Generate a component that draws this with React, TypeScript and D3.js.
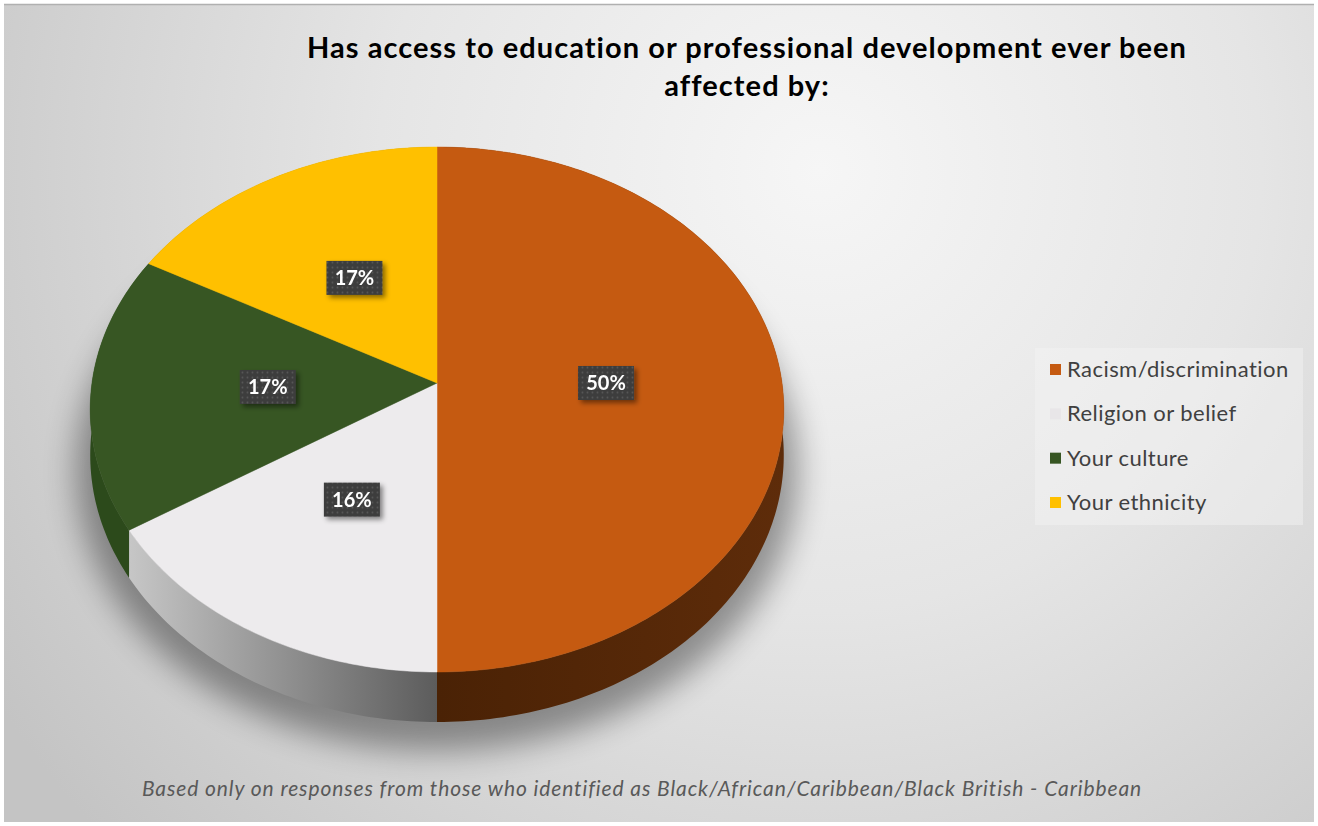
import React from "react";
import * as d3 from "d3";

const categories = ["Racism/discrimination", "Religion or belief", "Your culture", "Your ethnicity"];
const values = [50, 16, 17, 17];
const labels = ["50%", "16%", "17%", "17%"];
const topColors = ["#C55A11", "#EDEBED", "#375623", "#FFC000"];
const sideColors = ["url(#orangeSide)", "url(#graySide)", "#2C4A1B", "#B88A00"];
const legendColors = ["#C55A11", "#E8E6E8", "#375623", "#FFC000"];
const titleLines = ["Has access to education or professional development ever been", "affected by:"];
const footnote = "Based only on responses from those who identified as Black/African/Caribbean/Black British - Caribbean";

const W = 1318, H = 826;
// perspective projection of the pie disk
const CX = 437, CY = 383, A = 345, B = 259.8, K = -0.101, DEPTH = 45;

function proj(theta: number, r: number, drop = 0): [number, number] {
  const u = r * Math.sin(theta);
  const v = -r * Math.cos(theta);
  const den = 1 + K * v;
  return [CX + (A * u) / den, CY + (B * v + drop) / den];
}

function arcPts(t1: number, t2: number, r: number, drop = 0): [number, number][] {
  const n = Math.max(8, Math.ceil(((t2 - t1) * 180) / Math.PI));
  return d3.range(n + 1).map((i) => proj(t1 + ((t2 - t1) * i) / n, r, drop));
}

export default function App() {
  const pie = d3.pie<number>().sort(null).startAngle(0).endAngle(2 * Math.PI);
  const arcs = pie(values);
  const line = d3.line();

  const topPaths = arcs.map((a) => {
    const pts = [proj(0, 0), ...arcPts(a.startAngle, a.endAngle, 1)];
    return line(pts) + "Z";
  });
  const sidePaths = arcs.map((a) => {
    const top = arcPts(a.startAngle, a.endAngle, 1);
    const bot = arcPts(a.startAngle, a.endAngle, 1, DEPTH).reverse();
    return line([...top, ...bot]) + "Z";
  });
  const shadowPath = line(arcPts(0, 2 * Math.PI, 1.04, DEPTH + 14)) + "Z";
  const labelPos = arcs.map((a) => proj((a.startAngle + a.endAngle) / 2, 0.49));

  const legendY = d3.scalePoint<string>().domain(categories).range([370, 503]);

  return (
    <svg width={W} height={H} style={{ position: "absolute", left: 0, top: 0 }} fontFamily="Lato, 'Open Sans', sans-serif">
      <defs>
        <radialGradient id="bg" gradientUnits="userSpaceOnUse" cx={820} cy={170} r={980}>
          <stop offset="0" stopColor="#f6f6f6" />
          <stop offset="0.45" stopColor="#e5e5e5" />
          <stop offset="1" stopColor="#c4c4c4" />
        </radialGradient>
        <linearGradient id="graySide" gradientUnits="userSpaceOnUse" x1={110} y1={0} x2={437} y2={0}>
          <stop offset="0" stopColor="#cdcdcd" />
          <stop offset="0.45" stopColor="#9a9a9a" />
          <stop offset="1" stopColor="#5c5c5c" />
        </linearGradient>
        <linearGradient id="orangeSide" gradientUnits="userSpaceOnUse" x1={437} y1={0} x2={785} y2={0}>
          <stop offset="0" stopColor="#4A2205" />
          <stop offset="1" stopColor="#5E2C0A" />
        </linearGradient>
        <filter id="shadowBlur" x="-20%" y="-20%" width="140%" height="140%">
          <feGaussianBlur stdDeviation="16" />
        </filter>
        <filter id="boxShadow" x="-30%" y="-30%" width="160%" height="160%">
          <feDropShadow dx="3" dy="3" stdDeviation="2.5" floodColor="#000" floodOpacity="0.45" />
        </filter>
        <pattern id="dots" width="5" height="5" patternUnits="userSpaceOnUse">
          <rect width="5" height="5" fill="#3d3d3d" />
          <circle cx="2.5" cy="2.5" r="0.9" fill="#575757" />
        </pattern>
      </defs>

      <rect x={0} y={0} width={W} height={H} fill="#ffffff" />
      <rect x={4} y={4} width={1310} height={818} fill="url(#bg)" />
      <line x1={4} y1={4.5} x2={1314} y2={4.5} stroke="#b0b0b0" strokeWidth={1.5} />

      {titleLines.map((t, i) => (
        <text key={i} x={747} y={58 + i * 38} textAnchor="middle" fontSize={29} letterSpacing={1.05} fontWeight={700} fill="#000">
          {t}
        </text>
      ))}

      <path d={shadowPath} fill="#000" opacity={0.38} filter="url(#shadowBlur)" />

      {sidePaths.map((d, i) => (
        <path key={"s" + i} d={d} fill={sideColors[i]} />
      ))}
      {topPaths.map((d, i) => (
        <path key={"t" + i} d={d} fill={topColors[i]} stroke={topColors[i]} strokeWidth={0.5} />
      ))}

      {labelPos.map(([x, y], i) => (
        <g key={"l" + i} filter="url(#boxShadow)">
          <rect x={x - 28} y={y - 17} width={56} height={34} fill="url(#dots)" />
          <text x={x} y={y + 7} textAnchor="middle" fontSize={20} fontWeight={700} fill="#fff">
            {labels[i]}
          </text>
        </g>
      ))}

      <rect x={1035} y={348} width={268} height={177} fill="#f4f4f4" opacity={0.45} />
      {categories.map((c, i) => (
        <g key={"lg" + i}>
          <rect x={1050} y={legendY(c)! - 6} width={11} height={11} fill={legendColors[i]} />
          <text x={1067} y={legendY(c)! + 7} fontSize={22} letterSpacing={0.45} fill="#404040">
            {c}
          </text>
        </g>
      ))}

      <text x={642} y={796} textAnchor="middle" fontSize={21} letterSpacing={0.9} fontStyle="italic" fill="#595959">
        {footnote}
      </text>
    </svg>
  );
}
